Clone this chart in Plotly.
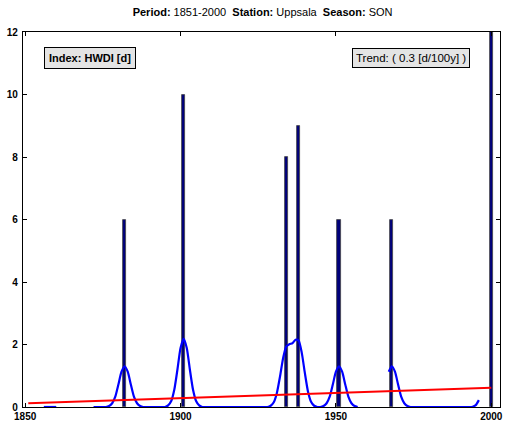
import plotly.graph_objects as go

# ---- data ----
bar_years = [1882, 1901, 1934, 1938, 1951, 1968, 2000]
bar_values = [6, 10, 8, 9, 6, 6, 12]

curve_years = list(range(1856, 1997))
curve_values = (
    [0, 0, 0, 0, 0]                                                   # 1856-1860
    + [None] * 11                                                     # 1861-1871
    + [0, 0, 0, 0, 0]                                                 # 1872-1876
    + [0.03, 0.12, 0.33, 0.72, 1.13, 1.30, 1.13, 0.72, 0.33, 0.12, 0.03]  # 1877-1887
    + [0, 0, 0, 0, 0, 0, 0, 0]                                        # 1888-1895
    + [0.05, 0.19, 0.56, 1.20, 1.89, 2.18, 1.89, 1.20, 0.56, 0.19, 0.05]  # 1896-1906
    + [0] * 22                                                        # 1907-1928
    + [0.04, 0.15, 0.45, 0.97, 1.56, 1.93, 2.01, 2.04, 2.15, 2.13,
       1.74, 1.09, 0.50, 0.17, 0.04]                                  # 1929-1943
    + [0, 0]                                                          # 1944-1945
    + [0.03, 0.12, 0.33, 0.72, 1.13, 1.30, 1.13, 0.72, 0.33, 0.12, 0.03, 0]  # 1946-1957
    + [None] * 9                                                      # 1958-1966
    + [1.13, 1.30, 1.13, 0.72, 0.33, 0.12, 0.03]                      # 1967-1973
    + [0] * 20                                                        # 1974-1993
    + [0.01, 0.06, 0.22]                                              # 1994-1996
)

trend_years = [1851, 2000]
trend_values = [0.12, 0.62]

x_ticks = [1850, 1900, 1950, 2000]
y_ticks = [0, 2, 4, 6, 8, 10, 12]

title_text = "<b>Period:</b> 1851-2000  <b>Station:</b> Uppsala  <b>Season:</b> SON"
index_label = "<b>Index: HWDI [d]</b>"
trend_label = "Trend: ( 0.3 [d/100y] )"

FONT = "Liberation Sans, Arial, Helvetica, sans-serif"

fig = go.Figure()
fig.add_trace(go.Bar(
    x=bar_years, y=bar_values, width=1.0,
    marker=dict(color="#00007a", line=dict(color="#444444", width=0.8)),
    showlegend=False,
))
fig.add_trace(go.Scatter(
    x=curve_years, y=curve_values, mode="lines",
    line=dict(color="#0000ff", width=2.2, shape="spline", smoothing=0.6),
    connectgaps=False, showlegend=False,
))
fig.add_trace(go.Scatter(
    x=trend_years, y=trend_values, mode="lines",
    line=dict(color="#ff0000", width=2), showlegend=False,
))

axis_common = dict(
    showline=True, linecolor="black", linewidth=1.3, mirror="ticks",
    ticks="inside", ticklen=4, tickcolor="black", tickwidth=1,
    showgrid=False, zeroline=False, automargin=False,
    tickfont=dict(family=FONT, size=10, color="black", weight="bold"),
)

fig.update_xaxes(range=[1849.3, 2002.8], tickvals=x_ticks, ticktext=[str(v) for v in x_ticks],
                 ticklabelstandoff=0, **axis_common)
fig.update_yaxes(range=[0, 12], tickvals=y_ticks, ticktext=[str(v) for v in y_ticks],
                 ticklabelstandoff=2, **axis_common)

fig.add_annotation(
    x=0.044, y=0.93, xref="paper", yref="paper", xanchor="left", yanchor="middle",
    text=index_label, showarrow=False,
    font=dict(family=FONT, size=11, color="black"),
    bgcolor="#e4e4e4", bordercolor="black", borderwidth=1, borderpad=4,
)
fig.add_annotation(
    x=0.937, y=0.93, xref="paper", yref="paper", xanchor="right", yanchor="middle",
    text=trend_label, showarrow=False,
    font=dict(family=FONT, size=11.5, color="black"),
    bgcolor="#e4e4e4", bordercolor="black", borderwidth=1, borderpad=3,
)

fig.update_layout(
    width=505, height=421,
    margin=dict(l=23, r=5, t=32, b=14),
    paper_bgcolor="white", plot_bgcolor="white",
    bargap=0,
    title=dict(text=title_text, x=0.52, xanchor="center", y=0.98, yanchor="top",
               font=dict(family=FONT, size=11, color="black")),
    font=dict(family=FONT),
)

fig.write_html("out.html", config={"displayModeBar": False},
               post_script="document.body.style.margin='0';document.body.style.overflow='hidden';")
